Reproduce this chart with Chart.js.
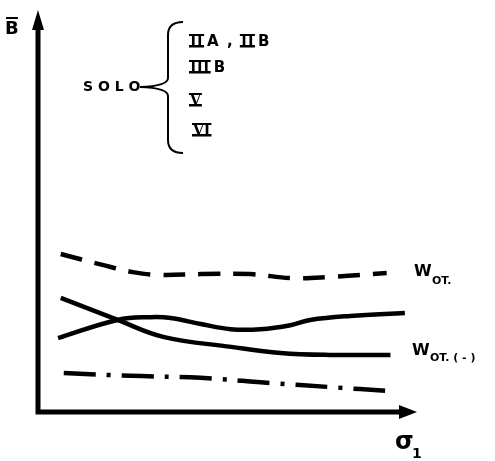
<!DOCTYPE html>
<html>
<head>
<meta charset="utf-8">
<script src="https://cdn.jsdelivr.net/npm/chart.js@4/dist/chart.umd.min.js"></script>
<style>
  html, body { margin: 0; padding: 0; background: #fff; }
  canvas { display: block; }
</style>
</head>
<body>
<canvas id="chart" width="495" height="461"></canvas>
<script>
// curves, x and y in 0..100 units of the plot area
const dashedX = [6, 17, 25, 32, 43, 56, 67, 77, 92];
const dashedY = [39.3, 36.6, 34.8, 34.1, 34.3, 34.3, 33.3, 33.6, 34.6];

const wOtMinusX = [6, 21, 33, 51, 64, 77, 93];
const wOtMinusY = [28.4, 22.9, 18.7, 16.2, 14.7, 14.2, 14.2];

const wOtX = [5.3, 21, 29.7, 35, 42.9, 50.8, 58.7, 66.6, 71.8, 82.4, 96.8];
const wOtY = [18.4, 22.9, 23.6, 23.4, 21.9, 20.6, 20.6, 21.6, 22.9, 23.9, 24.6];

const dashDotX = [6.8, 24.5, 42.9, 61.3, 77.1, 92.9];
const dashDotY = [9.7, 9.0, 8.5, 7.2, 6.2, 5.2];

const soloItems = ["\u2161A , \u2161B", "\u2162B", "\u2164", "\u2165"];
const romanMap = { '\u2161': 'II', '\u2162': 'III', '\u2164': 'V', '\u2165': 'VI' };

function pts(xs, ys) {
  return xs.map((x, i) => ({ x: x, y: ys[i] }));
}

function lineSet(label, xs, ys, dash) {
  return {
    label: label,
    data: pts(xs, ys),
    borderColor: '#000',
    borderWidth: 4.5,
    borderDash: dash,
    borderCapStyle: 'butt',
    pointRadius: 0,
    tension: 0.4,
    fill: false
  };
}

// one row of the SOLO list: numerals get the bars above and below
function drawRow(c, text, x, y) {
  for (const ch of text) {
    if (romanMap[ch]) {
      const r = romanMap[ch];
      c.font = 'bold 14px "DejaVu Serif"';
      const w = c.measureText(r).width;
      c.fillText(r, x, y);
      c.fillRect(x - 1, y - 12, w + 2, 2);
      c.fillRect(x - 1, y - 1, w + 2, 2.5);
      x += w + 4;
    } else {
      c.font = 'bold 15px "DejaVu Sans"';
      c.fillText(ch, x, y);
      x += c.measureText(ch).width + (ch === ' ' ? 1 : 2);
    }
  }
}

// axes with arrows + all the hand lettering
const sketchPlugin = {
  id: 'sketch',
  afterDraw(chart) {
    const c = chart.ctx;
    const a = chart.chartArea;
    c.save();
    c.fillStyle = '#000';
    c.strokeStyle = '#000';

    // axes
    c.lineWidth = 5;
    c.beginPath();
    c.moveTo(a.left, 26);
    c.lineTo(a.left, a.bottom);
    c.lineTo(a.right - 14, a.bottom);
    c.stroke();
    // arrow heads
    c.beginPath();
    c.moveTo(a.left, 10);
    c.lineTo(a.left - 6, 30);
    c.lineTo(a.left + 6, 30);
    c.closePath();
    c.fill();
    c.beginPath();
    c.moveTo(a.right, a.bottom);
    c.lineTo(a.right - 18, a.bottom - 7);
    c.lineTo(a.right - 18, a.bottom + 7);
    c.closePath();
    c.fill();

    // axis titles
    c.font = 'bold 18px "DejaVu Sans"';
    c.textBaseline = 'alphabetic';
    c.textAlign = 'left';
    c.fillText('B', 5, 34);
    c.lineWidth = 2;
    c.beginPath();
    c.moveTo(6, 18);
    c.lineTo(18, 18);
    c.stroke();

    c.font = 'bold 24px "DejaVu Sans"';
    c.fillText('\u03c3', 395, 449);
    c.font = 'bold 14px "DejaVu Sans"';
    c.fillText('1', 412, 458);

    // SOLO bracket
    c.font = 'bold 14px "DejaVu Sans"';
    c.fillText('S O L O', 83, 91);
    c.lineWidth = 2;
    c.beginPath();
    c.moveTo(183, 22);
    c.quadraticCurveTo(168, 22, 168, 35);
    c.lineTo(168, 78);
    c.quadraticCurveTo(168, 86, 140, 87);
    c.quadraticCurveTo(168, 88, 168, 96);
    c.lineTo(168, 140);
    c.quadraticCurveTo(168, 153, 183, 153);
    c.stroke();

    const rows = [46, 72, 105, 135];
    const lefts = [190, 190, 190, 193];
    soloItems.forEach((t, i) => drawRow(c, t, lefts[i], rows[i]));

    // curve labels
    c.font = 'bold 16px "DejaVu Sans"';
    c.fillText('W', 414, 276);
    c.fillText('W', 412, 355);
    c.font = 'bold 11px "DejaVu Sans"';
    c.fillText('OT.', 432, 284);
    c.fillText('OT. ( - )', 430, 361);
    c.restore();
  }
};

const config = {
  type: 'line',
  data: {
    datasets: [
      lineSet('W OT.', dashedX, dashedY, [22, 13]),
      lineSet('upper solid', wOtX, wOtY, []),
      lineSet('W OT. (-)', wOtMinusX, wOtMinusY, []),
      lineSet('dash-dot', dashDotX, dashDotY, [32, 11, 4, 11])
    ]
  },
  options: {
    responsive: false,
    animation: false,
    layout: { padding: { left: 38, right: 78, top: 10, bottom: 49 } },
    plugins: { legend: { display: false }, tooltip: { enabled: false } },
    scales: {
      x: { type: 'linear', min: 0, max: 100, display: false },
      y: { type: 'linear', min: 0, max: 100, display: false }
    }
  },
  plugins: [sketchPlugin]
};

const ctx = document.getElementById('chart').getContext('2d');
const myChart = new Chart(ctx, config);
</script>
</body>
</html>
